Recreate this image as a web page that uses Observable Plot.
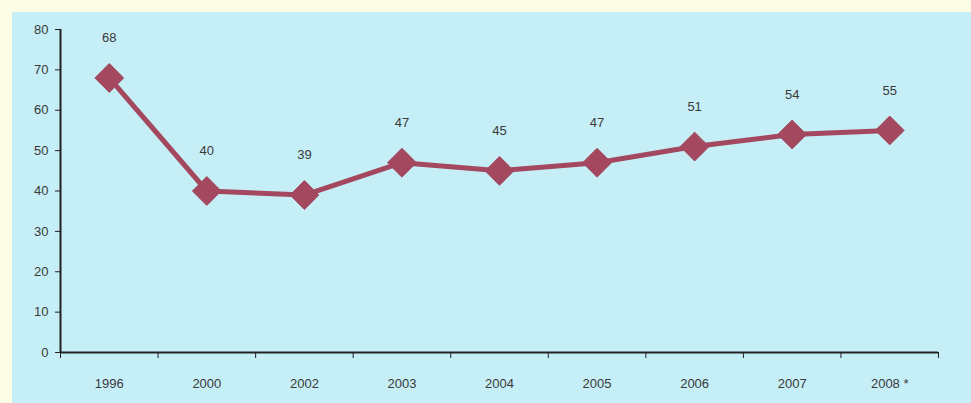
<!DOCTYPE html>
<html>
<head>
<meta charset="utf-8">
<script src="https://cdn.jsdelivr.net/npm/d3@7"></script>
<script src="https://cdn.jsdelivr.net/npm/@observablehq/plot@0.6"></script>
<style>
  html, body { margin: 0; padding: 0; background: #fbfbe6; }
  #wrap { position: relative; width: 971px; height: 403px; background: #fbfbe6; overflow: hidden; }
  #panel { position: absolute; left: 12px; top: 12px; right: 0; bottom: 0; background: #c6eef6; }
  #chart { position: absolute; left: 0; top: 0; }
  #chart svg { background: transparent; }
</style>
</head>
<body>
<div id="wrap"><div id="panel"></div><div id="chart"></div></div>
<script>
// Years on the horizontal axis and the value recorded for each
const years = ["1996", "2000", "2002", "2003", "2004", "2005", "2006", "2007", "2008 *"];
const values = [68, 40, 39, 47, 45, 47, 51, 54, 55];
const yTicks = [0, 10, 20, 30, 40, 50, 60, 70, 80];

const data = years.map((year, i) => ({i, year, value: values[i]}));
// category boundaries, used for the tick marks between years
const bounds = d3.range(years.length + 1).map(k => k - 0.5);

const lineColor = "#a3485f";
const textColor = "#3a3a3a";

const chart = Plot.plot({
  width: 971,
  height: 403,
  marginLeft: 60,
  marginRight: 33,
  marginTop: 29,
  marginBottom: 51,
  style: {fontFamily: "Liberation Sans, Arial, sans-serif", fontSize: "13px", color: textColor, background: "transparent"},
  x: {domain: [-0.5, years.length - 0.5]},
  y: {domain: [0, 80]},
  marks: [
    Plot.axisY({ticks: yTicks, tickSize: 5, tickPadding: 7, label: null, stroke: "#222", fontSize: 13}),
    Plot.axisX({ticks: bounds, tickFormat: () => "", tickSize: 6, label: null, stroke: "#222"}),
    Plot.axisX({ticks: d3.range(years.length), tickFormat: i => years[i], tickSize: 0, tickPadding: 26, label: null, fontSize: 13}),
    Plot.ruleX([bounds[0]], {stroke: "#222", strokeWidth: 2}),
    Plot.ruleY([0], {stroke: "#222", strokeWidth: 2}),
    Plot.line(data, {x: "i", y: "value", stroke: lineColor, strokeWidth: 5}),
    Plot.dot(data, {x: "i", y: "value", symbol: "diamond2", r: 13, fill: lineColor, stroke: lineColor, strokeWidth: 1}),
    Plot.text(data, {x: "i", y: "value", text: d => String(d.value), dy: -40, fill: textColor, fontSize: 13})
  ]
});

document.getElementById("chart").appendChild(chart);
</script>
</body>
</html>
